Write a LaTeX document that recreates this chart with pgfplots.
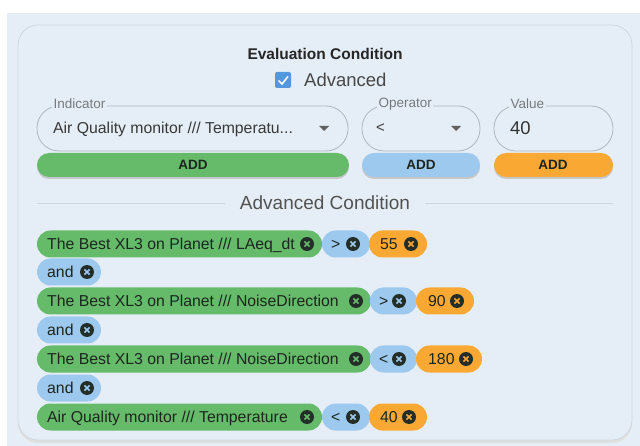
\documentclass[border=0pt]{standalone}
\usepackage{pgfplots}
\pgfplotsset{compat=1.18}
\usepackage{fontspec}
\setmainfont{Liberation Sans}
\definecolor{bg}{RGB}{229,238,246}
\definecolor{cardborder}{RGB}{205,215,225}
\definecolor{cgreen}{RGB}{102,187,106}
\definecolor{cblue}{RGB}{158,201,238}
\definecolor{corange}{RGB}{250,168,52}
\definecolor{cbblue}{RGB}{82,152,222}
\definecolor{icondark}{RGB}{36,46,40}
\definecolor{chiptext}{RGB}{28,38,30}
\definecolor{fieldborder}{RGB}{172,182,192}
\definecolor{labelgray}{RGB}{118,122,128}
\definecolor{divgray}{RGB}{205,214,222}
\newcommand{\chip}[4]{\fill[#4, rounded corners=13.5pt] ([yshift=13.5pt]axis cs:#1,#3) rectangle ([yshift=-13.5pt]axis cs:#2,#3);}
\newcommand{\ctext}[3]{\node[anchor=base west, inner sep=0pt, text=chiptext, font=\fontsize{15.8}{17}\selectfont] at ([yshift=-5.5pt]axis cs:#1,#2) {#3};}
\newcommand{\xicon}[3]{\fill[icondark] (axis cs:#1,#2) circle (7pt);
  \draw[#3, line width=1.6pt] ([shift={(-2.6pt,-2.6pt)}]axis cs:#1,#2) -- ([shift={(2.6pt,2.6pt)}]axis cs:#1,#2);
  \draw[#3, line width=1.6pt] ([shift={(-2.6pt,2.6pt)}]axis cs:#1,#2) -- ([shift={(2.6pt,-2.6pt)}]axis cs:#1,#2);}
\newcommand{\androw}[1]{\chip{37}{101}{#1}{cblue}\ctext{47}{#1}{and}\xicon{87}{#1}{cblue}}
\begin{document}
\begin{tikzpicture}
\begin{axis}[hide axis, scale only axis, x=1pt, y=1pt, y dir=reverse,
  xmin=0, xmax=640, ymin=0, ymax=446, clip=false]
% background
\fill[white] (axis cs:0,0) rectangle (axis cs:640,446);
\fill[bg] (axis cs:7,13) rectangle (axis cs:640,446);
% card shadow and border
\fill[black!12, rounded corners=20pt] (axis cs:18,27) rectangle (axis cs:632,443);
\filldraw[fill=bg, draw=cardborder, line width=0.8pt, rounded corners=20pt] (axis cs:18,25) rectangle (axis cs:632,440);
% title
\node[text=black!85, font=\bfseries\fontsize{15.5}{17}\selectfont] at (axis cs:325,54) {Evaluation Condition};
% checkbox
\fill[cbblue, rounded corners=2pt] (axis cs:275,72) rectangle (axis cs:291,88);
\draw[white, line width=1.6pt] (axis cs:278.5,80.5) -- (axis cs:282,84) -- (axis cs:288,76.5);
\node[anchor=west, inner sep=0pt, text=black!72, font=\fontsize{18.5}{20}\selectfont] at (axis cs:304,80) {Advanced};
% fields
\draw[fieldborder, line width=0.8pt, rounded corners=22pt] (axis cs:37,106) rectangle (axis cs:348,151);
\draw[fieldborder, line width=0.8pt, rounded corners=22pt] (axis cs:362,106) rectangle (axis cs:480,151);
\draw[fieldborder, line width=0.8pt, rounded corners=22pt] (axis cs:494,106) rectangle (axis cs:613,151);
\node[anchor=west, fill=bg, inner xsep=1.5pt, inner ysep=0pt, text=labelgray, font=\fontsize{13.5}{15}\selectfont] at (axis cs:52,104) {Indicator};
\node[anchor=west, fill=bg, inner xsep=1.5pt, inner ysep=0pt, text=labelgray, font=\fontsize{13.5}{15}\selectfont] at (axis cs:377,104) {Operator};
\node[anchor=west, fill=bg, inner xsep=1.5pt, inner ysep=0pt, text=labelgray, font=\fontsize{13.5}{15}\selectfont] at (axis cs:509,104) {Value};
\node[anchor=base west, inner sep=0pt, text=black!78, font=\fontsize{15.8}{17}\selectfont] at ([yshift=-5.5pt]axis cs:53,128) {Air Quality monitor /// Temperatu...};
\node[anchor=base west, inner sep=0pt, text=black!78, font=\fontsize{15}{17}\selectfont] at ([yshift=-5pt]axis cs:376,128) {<};
\node[anchor=base west, inner sep=0pt, text=black!80, font=\fontsize{18.5}{20}\selectfont] at ([yshift=-6.5pt]axis cs:510,128) {40};
\fill[black!62] (axis cs:319,126) -- (axis cs:329,126) -- (axis cs:324,131) -- cycle;
\fill[black!62] (axis cs:451,126) -- (axis cs:461,126) -- (axis cs:456,131) -- cycle;
% ADD buttons
\fill[black!22, rounded corners=12pt] (axis cs:37,155) rectangle (axis cs:349,179);
\fill[black!22, rounded corners=12pt] (axis cs:362,155) rectangle (axis cs:480,179);
\fill[black!22, rounded corners=12pt] (axis cs:494,155) rectangle (axis cs:613,179);
\fill[cgreen, rounded corners=12pt] (axis cs:37,153) rectangle (axis cs:349,177);
\fill[cblue, rounded corners=12pt] (axis cs:362,153) rectangle (axis cs:480,177);
\fill[corange, rounded corners=12pt] (axis cs:494,153) rectangle (axis cs:613,177);
\node[text=chiptext, font=\bfseries\fontsize{13.5}{15}\selectfont] at (axis cs:193,164.5) {ADD};
\node[text=chiptext, font=\bfseries\fontsize{13.5}{15}\selectfont] at (axis cs:421,164.5) {ADD};
\node[text=chiptext, font=\bfseries\fontsize{13.5}{15}\selectfont] at (axis cs:553,164.5) {ADD};
% divider
\draw[divgray, line width=0.7pt] (axis cs:37,203) -- (axis cs:225,203);
\draw[divgray, line width=0.7pt] (axis cs:425,203) -- (axis cs:613,203);
\node[text=black!68, font=\fontsize{19}{21}\selectfont] at (axis cs:325,203) {Advanced Condition};
% row 1
\chip{37}{322}{244}{cgreen}\ctext{47}{244}{The Best XL3 on Planet /// LAeq\_dt}\xicon{307}{244}{cgreen}
\chip{322}{370}{244}{cblue}\ctext{331}{244}{>}\xicon{353}{244}{cblue}
\chip{369}{427}{244}{corange}\ctext{380}{244}{55}\xicon{411}{244}{corange}
\androw{272}
% row 3
\chip{37}{371}{301}{cgreen}\ctext{47}{301}{The Best XL3 on Planet /// NoiseDirection}\xicon{356}{301}{cgreen}
\chip{370}{417}{301}{cblue}\ctext{379}{301}{>}\xicon{399}{301}{cblue}
\chip{416}{474}{301}{corange}\ctext{428}{301}{90}\xicon{457}{301}{corange}
\androw{330}
% row 5
\chip{37}{371}{359}{cgreen}\ctext{47}{359}{The Best XL3 on Planet /// NoiseDirection}\xicon{356}{359}{cgreen}
\chip{370}{417}{359}{cblue}\ctext{379}{359}{<}\xicon{399}{359}{cblue}
\chip{416}{482}{359}{corange}\ctext{428}{359}{180}\xicon{466}{359}{corange}
\androw{388}
% row 7
\chip{37}{322}{417}{cgreen}\ctext{47}{417}{Air Quality monitor /// Temperature}\xicon{307}{417}{cgreen}
\chip{322}{370}{417}{cblue}\ctext{331}{417}{<}\xicon{353}{417}{cblue}
\chip{369}{427}{417}{corange}\ctext{380}{417}{40}\xicon{409}{417}{corange}
\end{axis}
\end{tikzpicture}
\end{document}
